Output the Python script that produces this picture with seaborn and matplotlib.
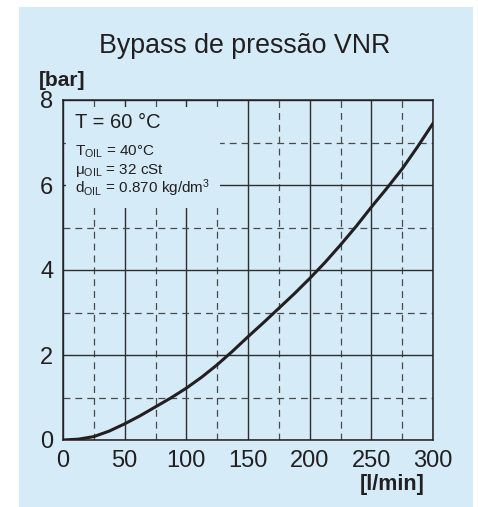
import matplotlib
matplotlib.use("Agg")
import matplotlib.pyplot as plt
from matplotlib.patches import Rectangle
from matplotlib.ticker import MultipleLocator
import seaborn as sns
import pandas as pd

# Data
flow_lpm = [0, 12.5, 25, 37.5, 50, 62.5, 75, 87.5, 100, 112.5, 125, 137.5, 150,
            162.5, 175, 187.5, 200, 212.5, 225, 237.5, 250, 262.5, 275, 287.5, 300]
pressure_bar = [0, 0.02, 0.08, 0.21, 0.38, 0.57, 0.78, 0.99, 1.22, 1.48, 1.77, 2.09, 2.43,
                2.76, 3.10, 3.44, 3.80, 4.18, 4.59, 5.02, 5.48, 5.92, 6.38, 6.90, 7.45]
x_ticks = [0, 50, 100, 150, 200, 250, 300]
y_ticks = [0, 2, 4, 6, 8]

title = "Bypass de pressão VNR"
y_unit = "[bar]"
x_unit = "[l/min]"
note_main = "T = 60 °C"
note_lines = [r"T$_{\mathrm{OIL}}$ = 40°C", r"μ$_{\mathrm{OIL}}$ = 32 cSt",
              r"d$_{\mathrm{OIL}}$ = 0.870 kg/dm$^{\mathrm{3}}$"]

plt.rcParams["font.family"] = ["Liberation Sans", "DejaVu Sans"]
plt.rcParams["mathtext.fontset"] = "custom"
plt.rcParams["mathtext.rm"] = "Liberation Sans"
plt.rcParams["mathtext.it"] = "Liberation Sans:italic"
plt.rcParams["mathtext.bf"] = "Liberation Sans:bold"

BG = "#d5ebf8"
INK = "#231f20"
W, H = 478, 507

fig = plt.figure(figsize=(W / 100, H / 100), dpi=100, facecolor="white")
fig.patches.append(Rectangle((19 / W, 0), (473 - 19) / W, (H - 7) / H,
                             transform=fig.transFigure, facecolor=BG,
                             edgecolor="none", zorder=-10))

ax = fig.add_axes([63 / W, (H - 440) / H, 370 / W, 340 / H])
ax.set_zorder(1)
ax.set_facecolor("none")

df = pd.DataFrame({"flow": flow_lpm, "pressure": pressure_bar})
sns.lineplot(data=df, x="flow", y="pressure", ax=ax, color=INK, linewidth=2.2,
             zorder=4)

ax.set_xlim(0, 300)
ax.set_ylim(0, 8)
ax.set_xticks(x_ticks)
ax.set_yticks(y_ticks)
ax.xaxis.set_minor_locator(MultipleLocator(25))
ax.yaxis.set_minor_locator(MultipleLocator(1))
ax.set_axisbelow(True)
ax.grid(which="major", color="#2e2e2e", linewidth=1.0, linestyle="-")
ax.grid(which="minor", color="#4a4a4a", linewidth=0.9, linestyle=(0, (5.5, 4)))
ax.tick_params(which="both", length=0, pad=7, labelsize=17, labelcolor=INK)
for s in ax.spines.values():
    s.set_color(INK)
    s.set_linewidth(1.1)
    s.set_zorder(5)
ax.set_xlabel("")
ax.set_ylabel("")

# box covering the grid behind the annotations
ax.add_patch(Rectangle((2.4, 5.46), 124.9, 2.38, facecolor=BG, edgecolor="none",
                       zorder=2))

fig.text(245 / W, 1 - 53 / H, title, ha="center", va="baseline", fontsize=19.3,
         color=INK)
fig.text(39 / W, 1 - 86 / H, y_unit, ha="left", va="baseline", fontsize=15,
         fontweight="bold", color=INK)
fig.text(425 / W, 1 - 490 / H, x_unit, ha="right", va="baseline", fontsize=15.5,
         fontweight="bold", color=INK)

fig.text(75 / W, 1 - 128 / H, note_main, ha="left", va="baseline", fontsize=14.5,
         color=INK, zorder=6)
for txt, yb in zip(note_lines, [156, 174, 193]):
    fig.text(75 / W, 1 - yb / H, txt, ha="left", va="baseline", fontsize=11,
             color=INK, zorder=6)

fig.savefig("out.png", dpi=100, facecolor="white")
